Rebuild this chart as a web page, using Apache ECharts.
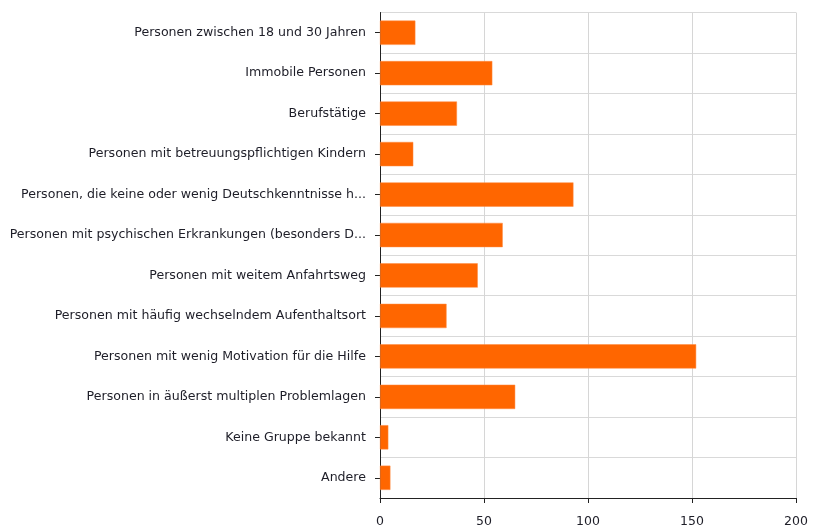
<!DOCTYPE html>
<html>
<head>
<meta charset="utf-8">
<script src="https://cdn.jsdelivr.net/npm/echarts@6/dist/echarts.min.js"></script>
<style>
  html, body { margin: 0; padding: 0; background: #fff; }
  #chart { width: 814px; height: 526px; }
</style>
</head>
<body>
<div id="chart"></div>
<script>
// Zielgruppen, die schwer erreichbar sind (Anzahl Nennungen)
const categories = [
  'Personen zwischen 18 und 30 Jahren',
  'Immobile Personen',
  'Berufstätige',
  'Personen mit betreuungspflichtigen Kindern',
  'Personen, die keine oder wenig Deutschkenntnisse h...',
  'Personen mit psychischen Erkrankungen (besonders D...',
  'Personen mit weitem Anfahrtsweg',
  'Personen mit häufig wechselndem Aufenthaltsort',
  'Personen mit wenig Motivation für die Hilfe',
  'Personen in äußerst multiplen Problemlagen',
  'Keine Gruppe bekannt',
  'Andere'
];
const counts = [17, 54, 37, 16, 93, 59, 47, 32, 152, 65, 4, 5];
const xTicks = { min: 0, max: 200, interval: 50 };

const chart = echarts.init(document.getElementById('chart'), null, { renderer: 'canvas' });
const font = '"DejaVu Sans", Verdana, sans-serif';

chart.setOption({
  animation: false,
  backgroundColor: '#ffffff',
  grid: { left: 380, right: 18, top: 12.5, bottom: 28, containLabel: false, outerBoundsMode: 'none' },
  xAxis: {
    type: 'value',
    min: xTicks.min,
    max: xTicks.max,
    interval: xTicks.interval,
    axisLine: { show: true, lineStyle: { color: '#222', width: 1 } },
    axisTick: { show: true, length: 5, lineStyle: { color: '#222' } },
    axisLabel: { color: '#1e1e28', fontFamily: font, fontSize: 12.5, margin: 17 },
    splitLine: { show: true, lineStyle: { color: '#d6d6d6', width: 1 } }
  },
  yAxis: {
    type: 'category',
    data: categories,
    inverse: true,
    axisLine: { show: true, lineStyle: { color: '#222', width: 1 } },
    axisTick: { show: true, alignWithLabel: true, length: 5, lineStyle: { color: '#222' } },
    axisLabel: { color: '#1e1e28', fontFamily: font, fontSize: 12.6, margin: 14 },
    splitLine: { show: true, lineStyle: { color: '#d9d9d9', width: 1 } }
  },
  series: [{
    type: 'bar',
    data: counts,
    barWidth: '60%',
    itemStyle: { color: '#ff6600', borderColor: '#ff8a40', borderWidth: 0.5 }
  }]
});
</script>
</body>
</html>
